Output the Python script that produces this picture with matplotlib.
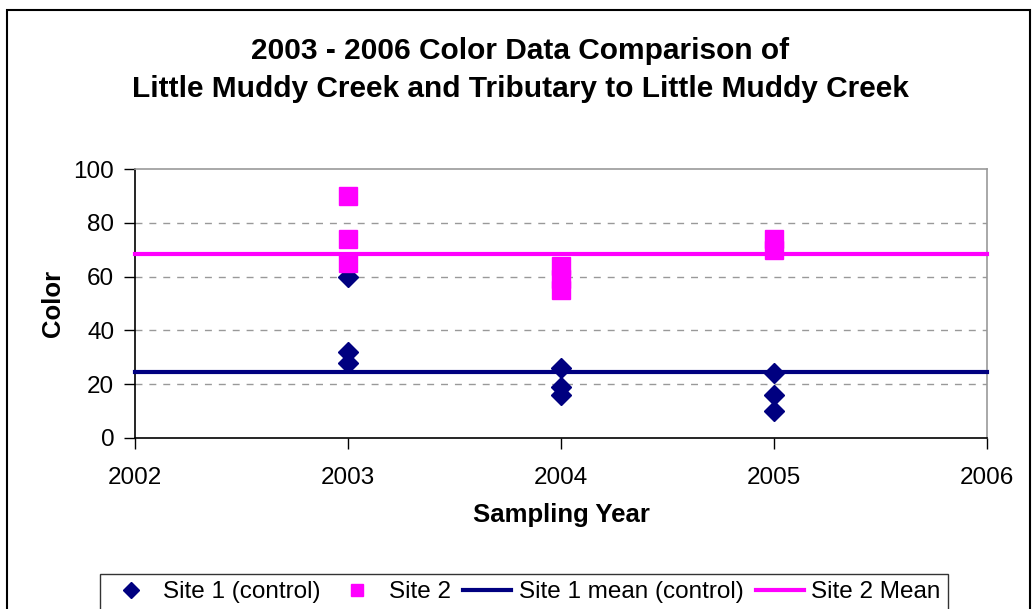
import matplotlib.pyplot as plt
from matplotlib.patches import Rectangle
from matplotlib.lines import Line2D

plt.rcParams['font.family'] = ['Liberation Sans', 'DejaVu Sans']

# data
site1_years = [2003, 2003, 2003, 2004, 2004, 2004, 2005, 2005, 2005]
site1_color = [60, 32, 28, 26, 19, 16, 24, 16, 10]
site2_years = [2003, 2003, 2003, 2004, 2004, 2004, 2005, 2005]
site2_color = [90, 74, 65, 64, 59, 55, 74, 70]
mean_span = [2002, 2006]
site1_mean = 24.5
site2_mean = 68.4

year_ticks = [2002, 2003, 2004, 2005, 2006]
color_ticks = [0, 20, 40, 60, 80, 100]

navy = '#000080'
magenta = '#FF00FF'

fig = plt.figure(figsize=(10.34, 6.09), dpi=100)
ax = fig.add_axes([135 / 1034, 1 - 438 / 609, (987 - 135) / 1034, (438 - 169) / 609])

ax.plot(site1_years, site1_color, linestyle='none', marker='D', markersize=10,
        color=navy, label='Site 1 (control)', zorder=3)
ax.plot(site2_years, site2_color, linestyle='none', marker='s', markersize=13.5,
        color=magenta, label='Site 2', zorder=3)
ax.plot(mean_span, [site1_mean, site1_mean], color=navy, linewidth=3,
        label='Site 1 mean (control)', zorder=4, clip_on=False)
ax.plot(mean_span, [site2_mean, site2_mean], color=magenta, linewidth=3,
        label='Site 2 Mean', zorder=4, clip_on=False)

ax.set_xlim(2002, 2006)
ax.set_ylim(0, 100)
ax.set_xticks(year_ticks)
ax.set_yticks(color_ticks)
ax.tick_params(axis='both', labelsize=17.5, direction='out', length=8, width=1, color='black')
ax.tick_params(axis='x', pad=13)
ax.tick_params(axis='y', pad=7)

for y in color_ticks[1:-1]:
    ax.axhline(y, color='#999999', linestyle=(0, (5, 5)), linewidth=1, zorder=1)

ax.spines['left'].set_color('black')
ax.spines['bottom'].set_color('black')
ax.spines['top'].set_color('#999999')
ax.spines['right'].set_color('#999999')
for s in ax.spines.values():
    s.set_linewidth(1.2)

ax.set_xlabel('Sampling Year', fontsize=18.5, fontweight='bold', labelpad=10)
ax.set_ylabel('Color', fontsize=18.5, fontweight='bold', labelpad=6)

fig.text(0.503, 1 - 70 / 609, '2003 - 2006 Color Data Comparison of\nLittle Muddy Creek and Tributary to Little Muddy Creek',
         ha='center', va='center', fontsize=21.5, fontweight='bold', linespacing=1.42)

handles = [
    Line2D([], [], linestyle='none', marker='D', markersize=8, color=navy),
    Line2D([], [], linestyle='none', marker='s', markersize=9, color=magenta),
    Line2D([], [], color=navy, linewidth=3),
    Line2D([], [], color=magenta, linewidth=3),
]
labels = ['Site 1 (control)', 'Site 2', 'Site 1 mean (control)', 'Site 2 Mean']
leg = fig.legend(handles, labels, loc='upper center', bbox_to_anchor=(524 / 1034, 1 - 562 / 609),
                 ncol=4, fontsize=17.5, frameon=True, fancybox=False, edgecolor='black',
                 handlelength=2.0, handletextpad=0.3, columnspacing=0.5, borderpad=0.3)
leg.get_frame().set_linewidth(1)

fig.patches.append(Rectangle((7 / 1034, -0.02), (1030 - 7) / 1034, 1.02 - 10 / 609,
                             transform=fig.transFigure, fill=False, edgecolor='black',
                             linewidth=1.5))

fig.savefig('out.png', dpi=100)
